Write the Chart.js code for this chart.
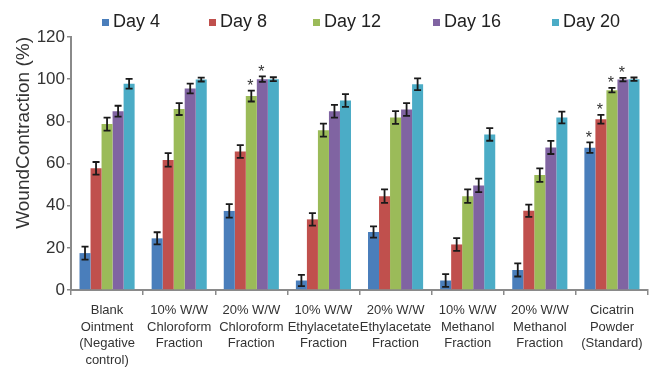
<!DOCTYPE html>
<html>
<head>
<meta charset="utf-8">
<script src="https://cdn.jsdelivr.net/npm/chart.js@4.4.1/dist/chart.umd.min.js"></script>
<style>
html,body{margin:0;padding:0;background:#fff;}
#wrap{width:652px;height:368px;position:relative;}
</style>
</head>
<body>
<div id="wrap"><canvas id="c" width="652" height="368"></canvas></div>
<script>
const categories = [
  ["Blank","Ointment","(Negative","control)"],
  ["10% W/W","Chloroform","Fraction"],
  ["20% W/W","Chloroform","Fraction"],
  ["10% W/W","Ethylacetate","Fraction"],
  ["20% W/W","Ethylacetate","Fraction"],
  ["10% W/W","Methanol","Fraction"],
  ["20% W/W","Methanol","Fraction"],
  ["Cicatrin","Powder","(Standard)"]
];
const seriesNames = ["Day 4","Day 8","Day 12","Day 16","Day 20"];
const day4  = [17.5, 24.5, 37.5, 4.5, 27.5, 4.5, 9.5, 67.5];
const day8  = [57.7, 61.7, 65.7, 33.5, 44.5, 21.6, 37.6, 81.0];
const day12 = [78.7, 85.8, 92.0, 75.8, 81.8, 44.5, 54.5, 94.8];
const day16 = [84.8, 95.6, 100.0, 84.8, 85.6, 49.6, 67.6, 99.8];
const day20 = [97.8, 99.8, 100.0, 89.9, 97.6, 73.8, 81.8, 100.0];
const err4  = [3.1, 2.9, 3.2, 2.7, 2.7, 3.0, 3.1, 2.5];
const err8  = [3.0, 3.2, 3.0, 3.0, 3.2, 3.0, 2.9, 2.1];
const err12 = [3.1, 2.8, 2.6, 3.1, 3.0, 3.2, 3.2, 1.1];
const err16 = [2.6, 2.3, 1.3, 3.0, 3.0, 3.2, 3.1, 0.8];
const err20 = [2.3, 0.9, 0.9, 3.0, 2.8, 3.0, 2.8, 0.8];
const star4  = [0,0,0,0,0,0,0,1];
const star8  = [0,0,0,0,0,0,0,1];
const star12 = [0,0,1,0,0,0,0,1];
const star16 = [0,0,1,0,0,0,0,1];
const star20 = [0,0,0,0,0,0,0,0];
const yTicks = [0,20,40,60,80,100,120];

const colors = ["#4a7ebb","#c0504d","#9bbb59","#8064a2","#4bacc6"];
const values = [day4, day8, day12, day16, day20];
const errors = [err4, err8, err12, err16, err20];
const stars = [star4, star8, star12, star16, star20];

const FONT = "'Liberation Sans', Arial, sans-serif";

const legendPos = [102, 209, 313, 433, 552];

const extras = {
  id: 'extras',
  afterDatasetsDraw(chart) {
    const ctx = chart.ctx;
    const y = chart.scales.y;
    ctx.save();
    chart.data.datasets.forEach((ds, i) => {
      const meta = chart.getDatasetMeta(i);
      meta.data.forEach((bar, j) => {
        const v = ds.data[j], e = errors[i][j];
        const x = bar.x;
        const yt = y.getPixelForValue(v + e);
        const yb = y.getPixelForValue(v - e);
        ctx.strokeStyle = '#1a1a1a';
        ctx.lineWidth = 1.8;
        ctx.beginPath();
        ctx.moveTo(x, yt); ctx.lineTo(x, yb);
        ctx.moveTo(x - 3.5, yt); ctx.lineTo(x + 3.5, yt);
        ctx.moveTo(x - 3.5, yb); ctx.lineTo(x + 3.5, yb);
        ctx.stroke();
        if (stars[i][j]) {
          ctx.fillStyle = '#333';
          ctx.font = "16px " + FONT;
          ctx.textAlign = 'center';
          ctx.textBaseline = 'middle';
          ctx.fillText('*', x - 1, yt - 4);
        }
      });
    });
    ctx.restore();
  },
  afterDraw(chart) {
    const ctx = chart.ctx;
    ctx.save();
    ctx.font = "18px " + FONT;
    ctx.textBaseline = 'middle';
    ctx.textAlign = 'left';
    seriesNames.forEach((n, i) => {
      const x = legendPos[i];
      ctx.fillStyle = colors[i];
      ctx.fillRect(x, 19, 7, 7);
      ctx.fillStyle = '#222';
      ctx.fillText(n, x + 11, 22.5);
    });
    ctx.restore();
  }
};

new Chart(document.getElementById('c'), {
  type: 'bar',
  data: {
    labels: categories,
    datasets: seriesNames.map((n, i) => ({
      label: n,
      data: values[i],
      backgroundColor: colors[i],
      borderWidth: 0,
      barPercentage: 1.0,
      categoryPercentage: 0.764
    }))
  },
  options: {
    responsive: false,
    animation: false,
    events: [],
    layout: { padding: { top: 37, right: 4, left: 0, bottom: 0 } },
    plugins: { legend: { display: false }, tooltip: { enabled: false } },
    scales: {
      x: {
        grid: { display: true, drawOnChartArea: false, offset: true, tickLength: 5, color: '#8a8a8a', lineWidth: 1.5 },
        border: { color: '#8a8a8a', width: 2 },
        ticks: { color: '#333', font: { family: FONT, size: 13, lineHeight: 1.28 }, padding: 7, maxRotation: 0, autoSkip: false },
        afterFit(s) { s.height = 78; }
      },
      y: {
        min: 0, max: 120,
        afterBuildTicks(s) { s.ticks = yTicks.map(v => ({ value: v })); },
        grid: { display: true, drawOnChartArea: false, tickLength: 4, color: '#8a8a8a', lineWidth: 1.5 },
        border: { color: '#8a8a8a', width: 2 },
        ticks: { color: '#333', font: { family: FONT, size: 17 }, padding: 2 },
        title: { display: true, text: 'WoundContraction (%)', align: 'end', color: '#333', font: { family: FONT, size: 19 }, padding: { top: 12, bottom: 0 } },
        afterFit(s) { s.width = 71; }
      }
    }
  },
  plugins: [extras]
});
</script>
</body>
</html>
